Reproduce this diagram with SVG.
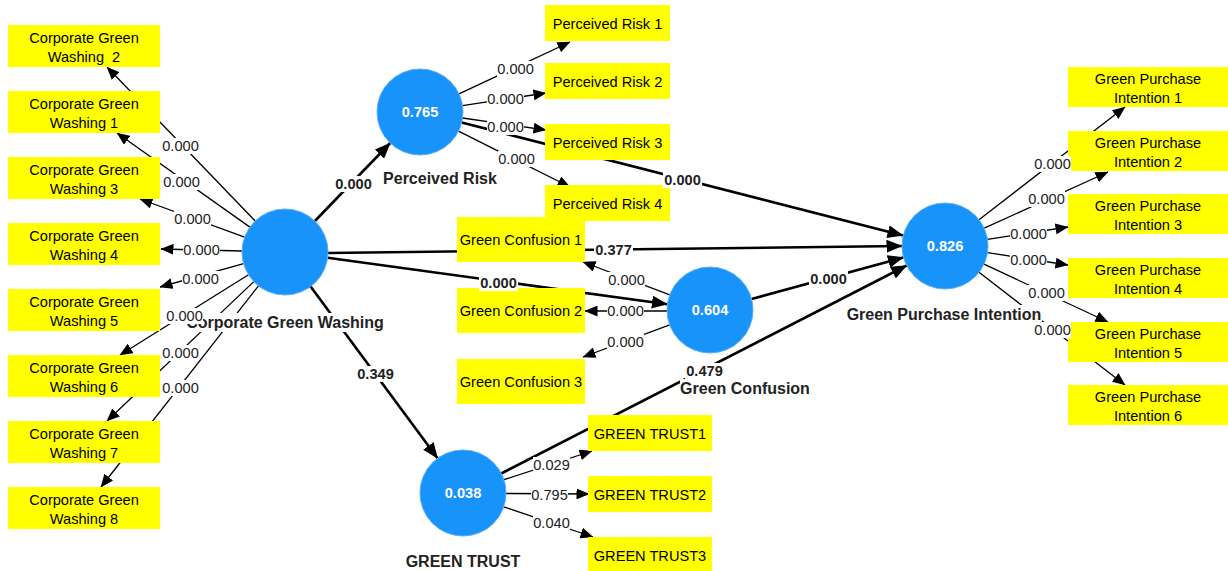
<svg xmlns="http://www.w3.org/2000/svg" width="1228" height="571" viewBox="0 0 1228 571">
<style>
.ln{stroke:#000;stroke-width:1.3;fill:none;marker-end:url(#ah)}
.lt{stroke:#000;stroke-width:2.6;fill:none;marker-end:url(#aht)}
.box{fill:#ffff00}
.bt{font-family:"Liberation Sans",Arial,sans-serif;font-size:14.6px;fill:#000;text-anchor:middle}
.cv{fill:#1893f9;stroke:#55adff;stroke-width:1}
.cvt{font-family:"Liberation Sans",Arial,sans-serif;font-size:14.6px;font-weight:bold;fill:#fff;text-anchor:middle}
.nl{font-family:"Liberation Sans",Arial,sans-serif;font-size:16px;font-weight:bold;fill:#222;text-anchor:middle}
.lb{fill:#fff}
.lt1{font-family:"Liberation Sans",Arial,sans-serif;font-size:14.6px;fill:#222;text-anchor:middle}
.lt2{font-family:"Liberation Sans",Arial,sans-serif;font-size:14.6px;font-weight:bold;fill:#222;text-anchor:middle}
</style>
<defs>
<marker id="ah" markerUnits="userSpaceOnUse" markerWidth="13" markerHeight="11" viewBox="0 0 13 11" refX="12.5" refY="5.5" orient="auto"><path d="M0,0 L13,5.5 L0,11 z" fill="#000"/></marker>
<marker id="aht" markerUnits="userSpaceOnUse" markerWidth="16" markerHeight="13" viewBox="0 0 16 13" refX="15.5" refY="6.5" orient="auto"><path d="M0,0 L16,6.5 L0,13 z" fill="#000"/></marker>
</defs>
<rect width="1228" height="571" fill="#fff"/>
<g id="connectors">
<line class="ln" x1="255.2" y1="221" x2="107" y2="67"/>
<line class="ln" x1="249.9" y1="227.1" x2="117" y2="133"/>
<line class="ln" x1="244.6" y1="237.2" x2="140" y2="199"/>
<line class="ln" x1="242" y1="251" x2="161" y2="249"/>
<line class="ln" x1="243.6" y1="263.6" x2="160" y2="287"/>
<line class="ln" x1="248.5" y1="274.8" x2="120" y2="355"/>
<line class="ln" x1="253.8" y1="281.6" x2="107" y2="421"/>
<line class="ln" x1="258.5" y1="285.8" x2="101" y2="487"/>
<line class="ln" x1="459" y1="93.8" x2="570" y2="42"/>
<line class="ln" x1="462.5" y1="105.6" x2="546" y2="93"/>
<line class="ln" x1="462.6" y1="118" x2="546" y2="130"/>
<line class="ln" x1="458.5" y1="131.2" x2="570" y2="187"/>
<line class="ln" x1="669.8" y1="294.8" x2="583" y2="262"/>
<line class="ln" x1="667" y1="311" x2="585" y2="311"/>
<line class="ln" x1="669.7" y1="324.9" x2="583" y2="357"/>
<line class="ln" x1="503.9" y1="479.7" x2="592" y2="451"/>
<line class="ln" x1="506" y1="493.5" x2="589" y2="494"/>
<line class="ln" x1="503.7" y1="506.8" x2="593" y2="537"/>
<line class="ln" x1="979" y1="219.7" x2="1125" y2="107"/>
<line class="ln" x1="984.2" y1="228.2" x2="1108" y2="172"/>
<line class="ln" x1="987.5" y1="239.4" x2="1068" y2="227"/>
<line class="ln" x1="987.5" y1="252.6" x2="1068" y2="265"/>
<line class="ln" x1="984" y1="264.2" x2="1108" y2="322"/>
<line class="ln" x1="979" y1="272.3" x2="1125" y2="385"/>
<line class="lt" x1="314.9" y1="221" x2="390.2" y2="143"/>
<line class="lt" x1="328" y1="253" x2="902" y2="246"/>
<line class="lt" x1="327.6" y1="257.8" x2="667.4" y2="304.2"/>
<line class="lt" x1="310.6" y1="286.5" x2="437.6" y2="458.3"/>
<line class="lt" x1="461.7" y1="122.5" x2="903" y2="235.5"/>
<line class="lt" x1="751.6" y1="299" x2="903.4" y2="257.5"/>
<line class="lt" x1="501.3" y1="473.5" x2="906.7" y2="265.5"/>
</g>
<g id="cgw2"><rect class="box" x="8" y="25" width="152" height="42"/><text class="bt" x="84" y="43">Corporate Green</text><text class="bt" x="84" y="62" xml:space="preserve">Washing  2</text></g>
<g id="cgw1"><rect class="box" x="8" y="91" width="152" height="42"/><text class="bt" x="84" y="109">Corporate Green</text><text class="bt" x="84" y="128">Washing 1</text></g>
<g id="cgw3"><rect class="box" x="8" y="157" width="152" height="42"/><text class="bt" x="84" y="175">Corporate Green</text><text class="bt" x="84" y="194">Washing 3</text></g>
<g id="cgw4"><rect class="box" x="8" y="223" width="152" height="42"/><text class="bt" x="84" y="241">Corporate Green</text><text class="bt" x="84" y="260">Washing 4</text></g>
<g id="cgw5"><rect class="box" x="8" y="289" width="152" height="42"/><text class="bt" x="84" y="307">Corporate Green</text><text class="bt" x="84" y="326">Washing 5</text></g>
<g id="cgw6"><rect class="box" x="8" y="355" width="152" height="42"/><text class="bt" x="84" y="373">Corporate Green</text><text class="bt" x="84" y="392">Washing 6</text></g>
<g id="cgw7"><rect class="box" x="8" y="421" width="152" height="42"/><text class="bt" x="84" y="439">Corporate Green</text><text class="bt" x="84" y="458">Washing 7</text></g>
<g id="cgw8"><rect class="box" x="8" y="487" width="152" height="42"/><text class="bt" x="84" y="505">Corporate Green</text><text class="bt" x="84" y="524">Washing 8</text></g>
<g id="pr1"><rect class="box" x="545" y="5" width="125" height="36"/><text class="bt" x="607.5" y="28.5">Perceived Risk 1</text></g>
<g id="pr2"><rect class="box" x="545" y="63" width="125" height="36"/><text class="bt" x="607.5" y="86.5">Perceived Risk 2</text></g>
<g id="pr3"><rect class="box" x="545" y="124" width="125" height="36"/><text class="bt" x="607.5" y="147.5">Perceived Risk 3</text></g>
<g id="pr4"><rect class="box" x="545" y="185" width="125" height="36"/><text class="bt" x="607.5" y="208.5">Perceived Risk 4</text></g>
<g id="gc1"><rect class="box" x="457" y="217" width="128" height="45"/><text class="bt" x="521" y="245">Green Confusion 1</text></g>
<g id="gc2"><rect class="box" x="457" y="288" width="128" height="45"/><text class="bt" x="521" y="316">Green Confusion 2</text></g>
<g id="gc3"><rect class="box" x="457" y="359" width="128" height="45"/><text class="bt" x="521" y="387">Green Confusion 3</text></g>
<g id="gt1"><rect class="box" x="588" y="415" width="124" height="36"/><text class="bt" x="650" y="438.5">GREEN TRUST1</text></g>
<g id="gt2"><rect class="box" x="588" y="476" width="124" height="36"/><text class="bt" x="650" y="499.5">GREEN TRUST2</text></g>
<g id="gt3"><rect class="box" x="588" y="537" width="124" height="36"/><text class="bt" x="650" y="560.5">GREEN TRUST3</text></g>
<g id="gpi1"><rect class="box" x="1068" y="67" width="160" height="40"/><text class="bt" x="1148" y="84">Green Purchase</text><text class="bt" x="1148" y="103">Intention 1</text></g>
<g id="gpi2"><rect class="box" x="1068" y="131" width="160" height="40"/><text class="bt" x="1148" y="148">Green Purchase</text><text class="bt" x="1148" y="167">Intention 2</text></g>
<g id="gpi3"><rect class="box" x="1068" y="194" width="160" height="40"/><text class="bt" x="1148" y="211">Green Purchase</text><text class="bt" x="1148" y="230">Intention 3</text></g>
<g id="gpi4"><rect class="box" x="1068" y="258" width="160" height="40"/><text class="bt" x="1148" y="275">Green Purchase</text><text class="bt" x="1148" y="294">Intention 4</text></g>
<g id="gpi5"><rect class="box" x="1068" y="322" width="160" height="40"/><text class="bt" x="1148" y="339">Green Purchase</text><text class="bt" x="1148" y="358">Intention 5</text></g>
<g id="gpi6"><rect class="box" x="1068" y="385" width="160" height="40"/><text class="bt" x="1148" y="402">Green Purchase</text><text class="bt" x="1148" y="421">Intention 6</text></g>
<g id="corporate-green-washing"><circle class="cv" cx="285" cy="252" r="43"/><rect class="lb" x="186" y="313" width="198" height="19"/><text class="nl" x="285" y="328">Corporate Green Washing</text></g>
<g id="perceived-risk"><circle class="cv" cx="420" cy="112" r="43"/><text class="cvt" x="420" y="117">0.765</text><rect class="lb" x="383" y="169" width="114" height="19"/><text class="nl" x="440" y="184">Perceived Risk</text></g>
<g id="green-confusion"><circle class="cv" cx="710" cy="310" r="43"/><text class="cvt" x="710" y="315">0.604</text><rect class="lb" x="680" y="379" width="130" height="19"/><text class="nl" x="745" y="394">Green Confusion</text></g>
<g id="green-trust"><circle class="cv" cx="463" cy="493" r="43"/><text class="cvt" x="463" y="498">0.038</text><rect class="lb" x="406" y="552" width="115" height="19"/><text class="nl" x="463" y="567">GREEN TRUST</text></g>
<g id="green-purchase-intention"><circle class="cv" cx="945" cy="246" r="43"/><text class="cvt" x="945" y="251">0.826</text><rect class="lb" x="846" y="305" width="196" height="19"/><text class="nl" x="944" y="320">Green Purchase Intention</text></g>
<g id="connector-labels">
<rect class="lb" x="162" y="138" width="37" height="16"/><text class="lt1" x="180.5" y="151">0.000</text>
<rect class="lb" x="163" y="174" width="37" height="16"/><text class="lt1" x="181.5" y="187">0.000</text>
<rect class="lb" x="174" y="211" width="37" height="16"/><text class="lt1" x="192.5" y="224">0.000</text>
<rect class="lb" x="183" y="242" width="37" height="16"/><text class="lt1" x="201.5" y="255">0.000</text>
<rect class="lb" x="182" y="271" width="37" height="16"/><text class="lt1" x="200.5" y="284">0.000</text>
<rect class="lb" x="166" y="308" width="37" height="16"/><text class="lt1" x="184.5" y="321">0.000</text>
<rect class="lb" x="162" y="345" width="37" height="16"/><text class="lt1" x="180.5" y="358">0.000</text>
<rect class="lb" x="162" y="380" width="37" height="16"/><text class="lt1" x="180.5" y="393">0.000</text>
<rect class="lb" x="497" y="61" width="37" height="16"/><text class="lt1" x="515.5" y="74">0.000</text>
<rect class="lb" x="487" y="91" width="37" height="16"/><text class="lt1" x="505.5" y="104">0.000</text>
<rect class="lb" x="487" y="119" width="37" height="16"/><text class="lt1" x="505.5" y="132">0.000</text>
<rect class="lb" x="498" y="151" width="37" height="16"/><text class="lt1" x="516.5" y="164">0.000</text>
<rect class="lb" x="608" y="272" width="37" height="16"/><text class="lt1" x="626.5" y="285">0.000</text>
<rect class="lb" x="607" y="303" width="37" height="16"/><text class="lt1" x="625.5" y="316">0.000</text>
<rect class="lb" x="607" y="334" width="37" height="16"/><text class="lt1" x="625.5" y="347">0.000</text>
<rect class="lb" x="533" y="457" width="37" height="16"/><text class="lt1" x="551.5" y="470">0.029</text>
<rect class="lb" x="531" y="487" width="37" height="16"/><text class="lt1" x="549.5" y="500">0.795</text>
<rect class="lb" x="533" y="515" width="37" height="16"/><text class="lt1" x="551.5" y="528">0.040</text>
<rect class="lb" x="1034" y="156" width="37" height="16"/><text class="lt1" x="1052.5" y="169">0.000</text>
<rect class="lb" x="1028" y="191" width="37" height="16"/><text class="lt1" x="1046.5" y="204">0.000</text>
<rect class="lb" x="1010" y="226" width="37" height="16"/><text class="lt1" x="1028.5" y="239">0.000</text>
<rect class="lb" x="1010" y="252" width="37" height="16"/><text class="lt1" x="1028.5" y="265">0.000</text>
<rect class="lb" x="1028" y="285" width="37" height="16"/><text class="lt1" x="1046.5" y="298">0.000</text>
<rect class="lb" x="1034" y="322" width="37" height="16"/><text class="lt1" x="1052.5" y="335">0.000</text>
<rect class="lb" x="334" y="176" width="39" height="16"/><text class="lt2" x="353.5" y="189">0.000</text>
<rect class="lb" x="663" y="172" width="39" height="16"/><text class="lt2" x="682.5" y="185">0.000</text>
<rect class="lb" x="594" y="242" width="39" height="16"/><text class="lt2" x="613.5" y="255">0.377</text>
<rect class="lb" x="479" y="275" width="39" height="16"/><text class="lt2" x="498.5" y="288">0.000</text>
<rect class="lb" x="809" y="271" width="39" height="16"/><text class="lt2" x="828.5" y="284">0.000</text>
<rect class="lb" x="356" y="366" width="39" height="16"/><text class="lt2" x="375.5" y="379">0.349</text>
<rect class="lb" x="685" y="363" width="39" height="16"/><text class="lt2" x="704.5" y="376">0.479</text>
</g>
</svg>
